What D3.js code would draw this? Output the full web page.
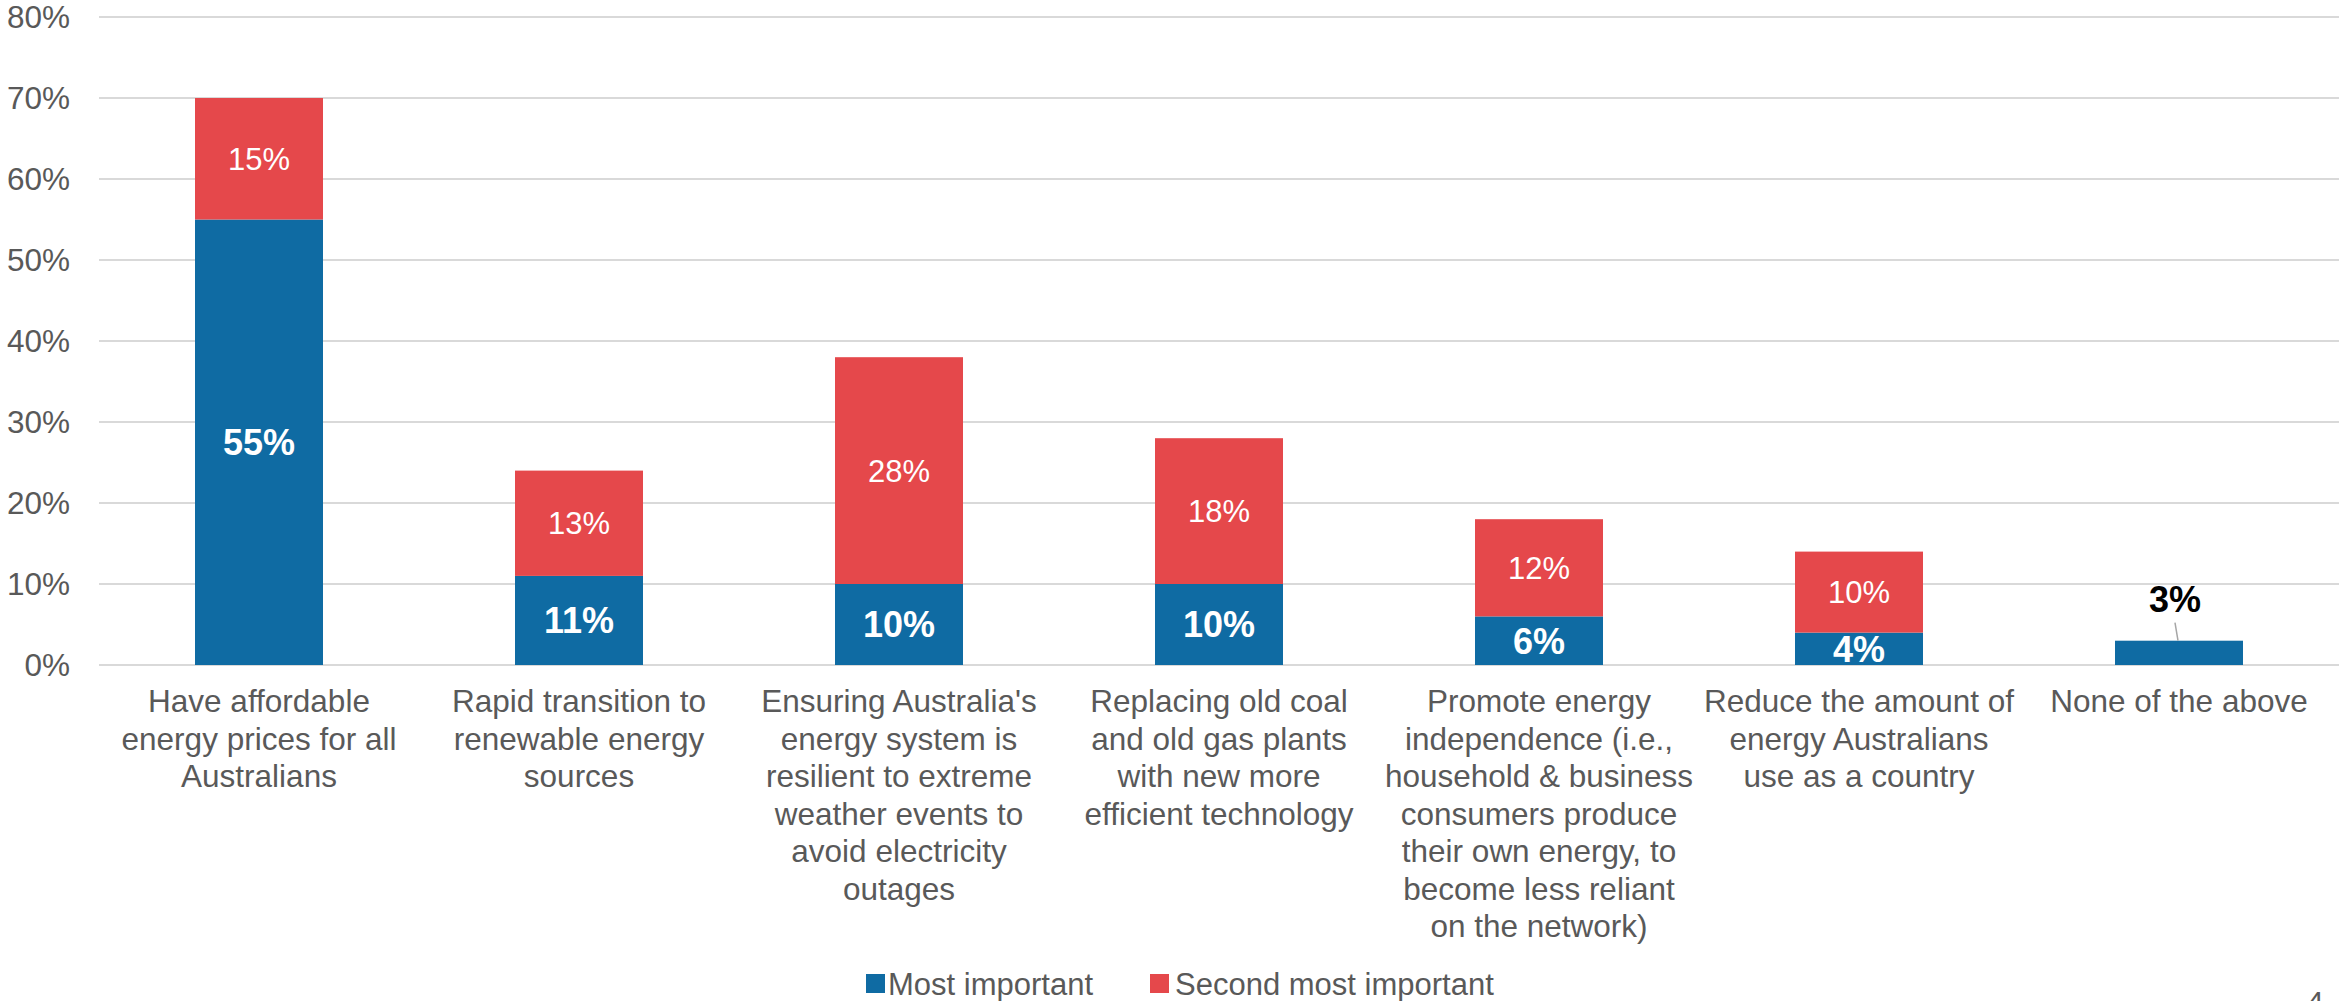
<!DOCTYPE html>
<html><head><meta charset="utf-8">
<script src="https://cdn.jsdelivr.net/npm/d3@7"></script>
<style>html,body{margin:0;padding:0;background:#fff;overflow:hidden}</style>
</head><body>
<svg id="c" width="2339" height="1001"></svg>
<script>
const categories = [
  ["Have affordable","energy prices for all","Australians"],
  ["Rapid transition to","renewable energy","sources"],
  ["Ensuring Australia's","energy system is","resilient to extreme","weather events to","avoid electricity","outages"],
  ["Replacing old coal","and old gas plants","with new more","efficient technology"],
  ["Promote energy","independence (i.e.,","household & business","consumers produce","their own energy, to","become less reliant","on the network)"],
  ["Reduce the amount of","energy Australians","use as a country"],
  ["None of the above"]
];
const mostImportant = [55, 11, 10, 10, 6, 4, 3];
const secondImportant = [15, 13, 28, 18, 12, 10, 0];
const yTicks = [0,10,20,30,40,50,60,70,80];
const seriesNames = ["Most important","Second most important"];
const colors = ["#0F6BA3","#E5484B"];

const svg = d3.select("#c");
const font = "Arial, 'Liberation Sans', sans-serif";
const x = d3.scaleBand().domain(d3.range(categories.length)).range([99,2339]).paddingInner(0.6).paddingOuter(0.3);
const y = d3.scaleLinear().domain([0,80]).range([665,17]);

// grid
svg.append("g").selectAll("line").data(yTicks).join("line")
  .attr("x1",99).attr("x2",2339).attr("y1",d=>y(d)).attr("y2",d=>y(d))
  .attr("stroke","#d9d9d9").attr("stroke-width",2);
// y labels
svg.append("g").selectAll("text").data(yTicks).join("text")
  .attr("x",70).attr("y",d=>y(d)).attr("dy","0.36em").attr("text-anchor","end")
  .attr("font-family",font).attr("font-size",31.5).attr("fill","#595959")
  .text(d=>d+"%");

const idx = d3.range(categories.length);
// blue bars
svg.append("g").selectAll("rect").data(idx).join("rect")
  .attr("x",i=>x(i)).attr("width",x.bandwidth())
  .attr("y",i=>y(mostImportant[i])).attr("height",i=>y(0)-y(mostImportant[i]))
  .attr("fill",colors[0]);
// red bars
svg.append("g").selectAll("rect").data(idx.filter(i=>secondImportant[i]>0)).join("rect")
  .attr("x",i=>x(i)).attr("width",x.bandwidth())
  .attr("y",i=>y(mostImportant[i]+secondImportant[i]))
  .attr("height",i=>y(mostImportant[i])-y(mostImportant[i]+secondImportant[i]))
  .attr("fill",colors[1]);

// red labels
svg.append("g").selectAll("text").data(idx.filter(i=>secondImportant[i]>0)).join("text")
  .attr("x",i=>x(i)+x.bandwidth()/2)
  .attr("y",i=>y(mostImportant[i]+secondImportant[i]/2)).attr("dy","0.36em")
  .attr("text-anchor","middle").attr("font-family",font).attr("font-size",31).attr("fill","#fff")
  .text(i=>secondImportant[i]+"%");
// blue labels
const last = categories.length-1;
svg.append("g").selectAll("text").data(idx.filter(i=>i!==last)).join("text")
  .attr("x",i=>x(i)+x.bandwidth()/2)
  .attr("y",i=>y(mostImportant[i]/2)).attr("dy","0.36em")
  .attr("text-anchor","middle").attr("font-family",font).attr("font-size",36).attr("font-weight","bold").attr("fill","#fff")
  .text(i=>mostImportant[i]+"%");
// 3% label with leader
{
  const cx = x(last)+x.bandwidth()/2;
  svg.append("line").attr("x1",cx-4).attr("y1",y(mostImportant[last])-18).attr("x2",cx-1).attr("y2",y(mostImportant[last]))
    .attr("stroke","#a6a6a6").attr("stroke-width",1.5);
  svg.append("text").attr("x",cx-4).attr("y",y(mostImportant[last])-29)
    .attr("text-anchor","middle").attr("font-family",font).attr("font-size",36).attr("font-weight","bold").attr("fill","#000")
    .text(mostImportant[last]+"%");
}

// category labels
const cg = svg.append("g").selectAll("text").data(idx).join("text")
  .attr("text-anchor","middle").attr("font-family",font).attr("font-size",31.5).attr("fill","#595959");
cg.each(function(i){
  const t = d3.select(this);
  categories[i].forEach((ln,k)=>{
    t.append("tspan").attr("x",x(i)+x.bandwidth()/2).attr("y",712+k*37.5).text(ln);
  });
});

// legend
const leg = [{x:866,tx:888},{x:1150,tx:1175}];
leg.forEach((l,i)=>{
  svg.append("rect").attr("x",l.x).attr("y",974).attr("width",19).attr("height",19).attr("fill",colors[i]);
  svg.append("text").attr("x",l.tx).attr("y",995).attr("font-family",font).attr("font-size",31)
    .attr("fill","#595959").text(seriesNames[i]);
});
// page number (cut off at bottom edge, as in the source)
svg.append("text").attr("x",2307).attr("y",1012).attr("font-family",font).attr("font-size",30).attr("fill","#595959").text("4");
</script>
</body></html>
